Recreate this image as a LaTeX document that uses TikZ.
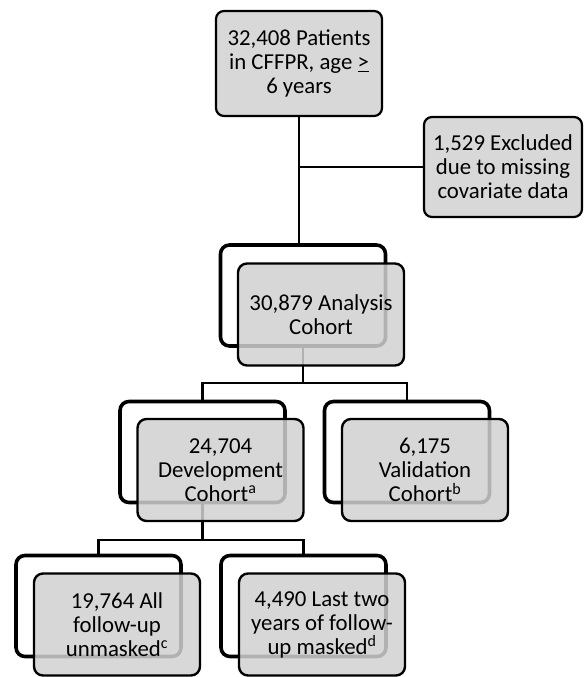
\documentclass[tikz,border=0pt]{standalone}
\usepackage{fontspec}
\setmainfont{Carlito}
\usepackage{tikz}
\usetikzlibrary{backgrounds}
\definecolor{boxgray}{RGB}{216,216,216}
\definecolor{frontgray}{RGB}{209,209,209}

\begin{document}
\begin{tikzpicture}[x=1pt,y=-1pt,
                      txt/.style={align=center,font=\fontsize{22.8}{24}\selectfont,text=black},
                      mainbox/.style={txt,draw,line width=2.2pt,fill=boxgray,rounded corners=8pt},
                      backbox/.style={draw,line width=3.6pt,fill=white,rounded corners=9pt,minimum width=165pt,minimum height=101pt},
                      frontbox/.style={txt,draw,line width=2.4pt,fill=frontgray,fill opacity=0.85,text opacity=1,rounded corners=9pt,minimum width=166pt,minimum height=102pt},
                      conn/.style={line width=2.2pt}]
                      \useasboundingbox (0,0) rectangle (585,677);
                      \node[mainbox,minimum width=166pt,minimum height=105pt](top)at(299,63.5){32,408 Patients\\in CFFPR, age \underline{>}\\6 years};
                      \node[mainbox,minimum width=158pt,minimum height=100pt](excl)at(503,167){1,529 Excluded\\due to missing\\covariate data};
                      \node[backbox](anab)at(303,295.5){};
                      \node[frontbox](ana)at([shift={(18,19)}]anab.center){30,879 Analysis\\Cohort};
                      \node[backbox](devb)at(202.5,452){};
                      \node[frontbox](dev)at([shift={(18,18)}]devb.center){24,704\\Development\\Cohort\textsuperscript{a}};
                      \node[backbox](valb)at(407,452){};
                      \node[frontbox](val)at([shift={(18,18)}]valb.center){6,175\\Validation\\Cohort\textsuperscript{b}};
                      \node[backbox](allb)at(98.5,606){};
                      \node[frontbox](all)at([shift={(18.5,18.5)}]allb.center){19,764 All\\follow-up\\unmasked\textsuperscript{c}};
                      \node[backbox](lastb)at(303.5,606){};
                      \node[frontbox](last)at([shift={(18.5,18.5)}]lastb.center){4,490 Last two\\years of follow-\\up masked\textsuperscript{d}};
                      \begin{pgfonlayer}{background}
                      \draw[conn](top)--(top|-anab.north);
                      \draw[conn](top|-excl)--(excl.west);
                      \draw[conn](anab)--++(0,87.5)-|(devb);
                      \draw[conn](anab)--++(0,87.5)-|(valb);
                      \draw[conn](devb)--++(0,88)-|(allb);
                      \draw[conn](devb)--++(0,88)-|(lastb);
                      \end{pgfonlayer}
                  \end{tikzpicture}
\end{document}
